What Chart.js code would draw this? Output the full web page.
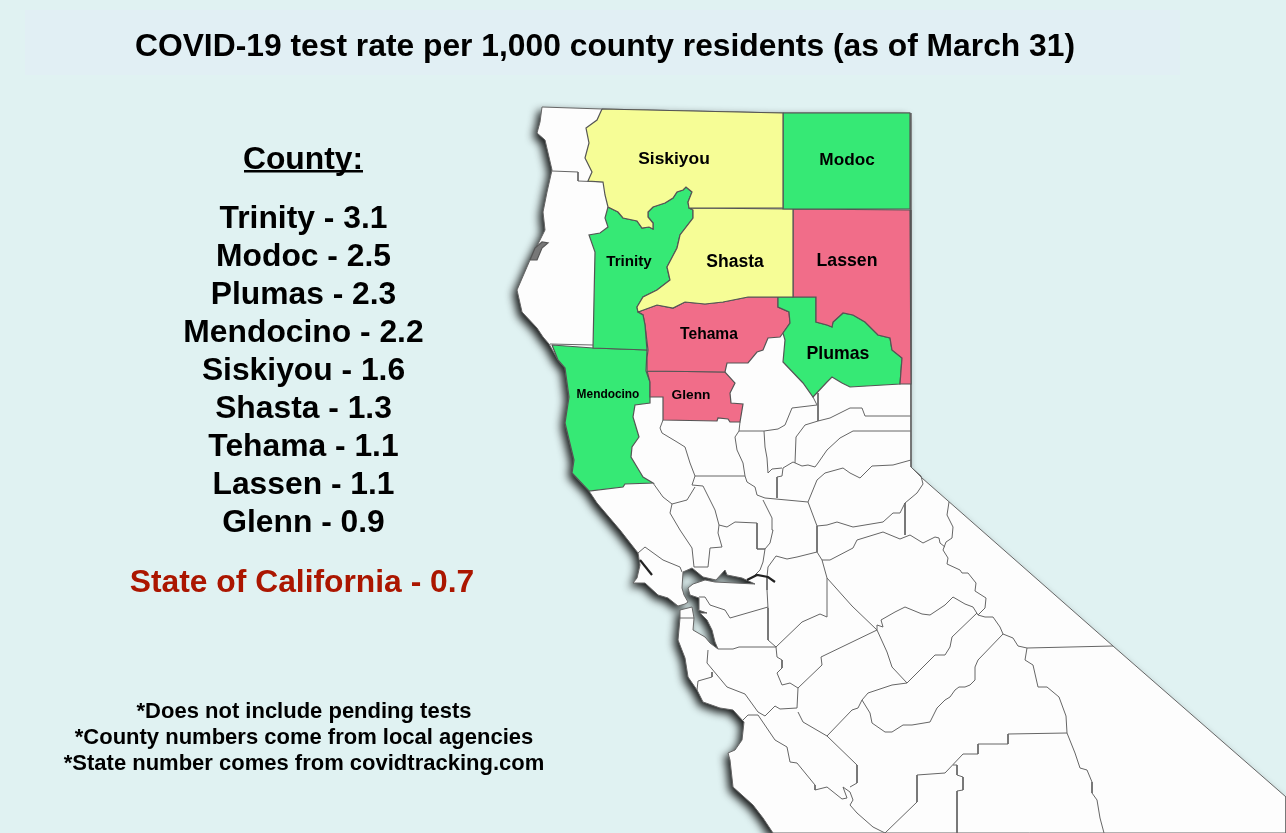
<!DOCTYPE html>
<html>
<head>
<meta charset="utf-8">
<title>COVID-19 test rate</title>
<script src="https://cdn.jsdelivr.net/npm/chart.js@4"></script>
<style>
  html, body { margin: 0; padding: 0; background: #e0f2f2; }
  canvas { display: block; }
</style>
</head>
<body>
<canvas id="mapChart" width="1286" height="833"></canvas>
<script>
// text
const titleText = "COVID-19 test rate per 1,000 county residents (as of March 31)";
const listHeader = "County:";
const rankedCounties = ["Trinity", "Modoc", "Plumas", "Mendocino", "Siskiyou", "Shasta", "Tehama", "Lassen", "Glenn"];
const rankedRates = ["3.1", "2.5", "2.3", "2.2", "1.6", "1.3", "1.1", "1.1", "0.9"];
const stateLine = "State of California - 0.7";
const footnotes = ["*Does not include pending tests", "*County numbers come from local agencies", "*State number comes from covidtracking.com"];

// map labels, in picture coordinates
const mapLabels = ["Siskiyou", "Modoc", "Trinity", "Shasta", "Lassen", "Tehama", "Plumas", "Glenn", "Mendocino"];
const mapLabelX = [674, 847, 629, 735, 847, 709, 838, 691, 608];
const mapLabelY = [158, 159, 261, 261, 260, 333, 353, 394, 394];
const mapLabelSize = [17.4, 17.2, 15.2, 17.5, 17.7, 15.6, 17.7, 13.7, 11.9];

// outlines, x/y in picture pixels
const stateOutline = [[542,107],[602,109],[783,113],[910,113],[911,210],[911,467],[922,478],[1113,646],[1286,797],[1286,833],[773,833],[763,818],[753,805],[733,787],[730,760],[728,753],[735,750],[742,740],[744,722],[733,710],[720,708],[703,702],[697,690],[688,677],[685,658],[678,640],[680,618],[680,610],[692,607],[694,618],[693,630],[705,637],[710,643],[718,649],[715,642],[712,630],[707,620],[700,613],[707,613],[698,610],[699,598],[690,595],[688,588],[693,584],[705,580],[715,582],[755,584],[742,578],[727,575],[725,570],[716,580],[703,577],[692,568],[683,572],[682,588],[684,595],[688,602],[685,604],[678,606],[668,598],[658,595],[645,583],[633,583],[637,578],[640,565],[638,553],[620,530],[597,503],[589,491],[572,473],[574,460],[565,423],[569,397],[565,368],[558,360],[549,344],[543,337],[537,328],[522,312],[517,290],[530,260],[545,230],[543,212],[547,192],[552,170],[545,140],[537,133],[540,122]];
const siskiyouOutline = [[602,109],[783,113],[783,208],[689,208],[688,202],[692,192],[686,187],[683,190],[677,192],[673,198],[665,203],[653,207],[648,212],[648,217],[653,223],[653,229],[649,227],[642,228],[637,221],[623,218],[618,212],[608,207],[605,195],[603,182],[588,181],[592,172],[585,158],[589,143],[586,128],[597,120]];
const modocOutline = [[783,113],[910,113],[910,209],[783,209]];
const shastaOutline = [[689,208],[793,209],[793,297],[778,297],[762,297],[748,297],[723,302],[705,304],[685,302],[673,308],[657,305],[638,312],[637,307],[643,297],[657,290],[670,280],[667,267],[677,248],[680,235],[693,218],[693,210]];
const trinityOutline = [[608,207],[618,212],[623,218],[637,221],[642,228],[649,227],[653,229],[653,223],[648,217],[648,212],[653,207],[665,203],[673,198],[677,192],[683,190],[686,187],[692,192],[688,202],[689,208],[693,210],[693,218],[680,235],[677,248],[667,267],[670,280],[657,290],[643,297],[637,307],[638,312],[643,315],[645,325],[647,350],[593,348],[595,252],[589,235],[600,233],[608,227],[605,218]];
const lassenOutline = [[793,209],[910,210],[911,384],[900,384],[902,358],[892,350],[890,338],[878,335],[865,322],[853,315],[843,313],[833,322],[832,327],[827,325],[816,322],[816,297],[793,297]];
const plumasOutline = [[778,297],[816,297],[816,322],[827,325],[832,327],[833,322],[843,313],[853,315],[865,322],[878,335],[890,338],[892,350],[902,358],[900,384],[850,387],[842,383],[832,377],[827,382],[813,397],[803,383],[783,362],[785,340],[783,333],[790,323],[789,312],[778,307]];
const tehamaOutline = [[638,312],[657,305],[673,308],[685,302],[705,304],[723,302],[748,297],[762,297],[778,297],[778,307],[789,312],[790,323],[783,333],[780,337],[768,338],[763,350],[757,352],[748,363],[727,363],[725,372],[647,371],[647,358],[648,350],[645,325],[643,315]];
const glennOutline = [[647,371],[725,372],[735,383],[730,393],[731,403],[743,404],[740,422],[730,422],[728,419],[718,418],[717,421],[663,420],[663,397],[650,397],[650,382]];
const mendocinoOutline = [[552,345],[593,348],[647,350],[646,371],[650,382],[650,403],[635,405],[633,417],[639,437],[632,447],[631,457],[640,472],[643,477],[653,483],[625,484],[623,487],[589,491],[572,473],[574,460],[565,423],[569,397],[565,368],[558,360]];
const humboldtBay = [[530,260],[535,248],[542,242],[548,243],[542,248],[537,260]];

// county lines of the white part of the state
const whiteBorders = [
  [[552,171],[578,172],[578,181],[603,182]],
  [[550,344],[593,345]],
  [[740,422],[739,431],[764,431],[778,429],[785,425],[792,408],[817,405],[813,397]],
  [[818,393],[818,421],[830,418],[850,408],[862,408],[865,416],[911,416]],
  [[818,421],[805,425],[796,437],[795,463]],
  [[911,431],[853,431],[840,438],[827,450],[818,463],[815,467],[808,465],[802,466],[793,462],[783,468],[782,476],[777,477],[777,498]],
  [[764,431],[765,447],[767,458],[768,473],[772,469],[782,468]],
  [[739,431],[735,437],[737,450],[743,463],[745,476],[747,482],[755,487],[757,495],[765,498],[808,502]],
  [[911,460],[893,465],[872,466],[860,478],[850,473],[843,468],[825,473],[817,480],[808,502],[817,526],[817,552],[797,557],[787,559],[776,556],[768,567],[767,577],[767,590],[768,608],[768,640],[776,647]],
  [[912,468],[921,476],[923,484],[917,493],[905,503],[900,513],[893,513],[883,522],[853,527],[837,522],[827,525],[817,526]],
  [[817,552],[822,560],[830,560],[853,548],[857,540],[883,532],[900,539],[910,535],[923,543],[935,537],[939,538],[940,543],[945,547]],
  [[905,503],[905,535]],
  [[822,560],[827,578],[852,606],[877,630]],
  [[695,476],[745,476]],
  [[695,476],[692,485],[703,486],[715,510],[719,525],[727,527],[735,522],[757,523],[757,549],[765,549],[770,543],[773,530],[772,518],[763,500]],
  [[653,483],[663,497],[672,504],[687,500],[695,487]],
  [[695,476],[690,463],[685,447],[677,442],[662,433],[660,428],[663,420]],
  [[672,504],[670,513],[680,530],[692,548],[694,567],[708,567],[710,548],[722,547],[718,533],[719,525]],
  [[638,553],[645,547],[663,560],[680,567],[682,572]],
  [[757,549],[765,549],[763,562],[760,570],[753,577]],
  [[680,618],[694,618]],
  [[699,597],[705,597],[710,605],[725,610],[730,618],[768,607]],
  [[718,649],[733,649],[739,647],[776,647],[777,657],[782,660],[782,668],[777,673],[782,685],[790,683],[798,688],[797,708],[780,709],[775,706],[765,716]],
  [[708,650],[707,663],[727,687],[745,694],[758,712],[765,716]],
  [[712,672],[712,677],[698,681],[697,690]],
  [[743,720],[748,715],[758,715],[775,740],[787,747],[790,762],[797,763],[815,785],[815,790],[827,787],[842,799],[847,798],[843,787],[850,792],[853,800],[850,805],[857,813],[873,827],[885,833]],
  [[798,712],[803,722],[827,736],[857,765],[857,783],[850,787]],
  [[776,647],[802,622],[820,614],[827,617],[827,578]],
  [[798,688],[822,665],[821,657],[877,630],[887,652],[892,667],[907,683],[935,655],[945,655],[950,647],[952,637],[977,613]],
  [[827,736],[852,710],[858,708],[862,700],[868,693],[892,685],[907,683]],
  [[862,700],[870,713],[872,723],[885,732],[892,732],[903,725],[912,725],[930,722],[937,708],[945,700],[950,697],[955,690],[959,687],[965,687],[970,685],[975,680],[975,667],[978,660],[1003,634]],
  [[877,630],[877,625],[883,627],[881,620],[895,612],[905,607],[922,614],[930,615],[945,605],[953,597],[965,604],[973,607],[978,615],[985,617],[993,617],[1000,627],[1003,634],[1013,638],[1018,646],[1027,648]],
  [[978,615],[985,608],[986,598],[975,591],[976,583],[968,573],[962,573],[960,570],[947,564],[948,558],[943,550],[946,542],[952,538],[953,527],[947,515],[949,502]],
  [[1027,648],[1113,646]],
  [[1027,648],[1025,660],[1033,665],[1038,687],[1047,687],[1059,697],[1066,716],[1067,733],[1075,753],[1080,768],[1087,770],[1092,782],[1092,793],[1097,800],[1100,818],[1104,833]],
  [[1067,733],[1008,734],[1008,744],[978,744],[978,754],[963,754],[945,773],[917,775],[917,802],[885,833]],
  [[953,765],[957,765],[957,775],[963,777],[963,790],[957,791],[957,833]]
];
// dark water marks: Tomales Bay, the delta
const waterMarks = [
  [[640,560],[652,575]],
  [[747,580],[757,575],[768,577],[775,582]]
];

const GREEN = "#36e975", YELLOW = "#f6fd96", RED = "#f16d89", WHITE = "#fdfdfd", LINE = "#666";

function toPoints(outline) {
  return outline.map((p) => ({ x: p[0], y: p[1] }));
}
function closed(outline) {
  return toPoints(outline.concat([outline[0]]));
}
function county(name, outline, color) {
  return { label: name, data: closed(outline), showLine: true, pointRadius: 0, tension: 0, fill: "shape", backgroundColor: color, borderColor: "#555", borderWidth: 1.2 };
}
function borderLine(line, width, color) {
  return { label: "border", data: toPoints(line), showLine: true, pointRadius: 0, tension: 0, fill: false, borderColor: color, borderWidth: width };
}

// chart.js draws the last dataset first, so the silhouette goes at the end
const datasets = [
  ...waterMarks.map((l) => borderLine(l, 2.2, "#222")),
  county("Humboldt Bay", humboldtBay, "#777"),
  county("Siskiyou", siskiyouOutline, YELLOW),
  county("Modoc", modocOutline, GREEN),
  county("Shasta", shastaOutline, YELLOW),
  county("Trinity", trinityOutline, GREEN),
  county("Lassen", lassenOutline, RED),
  county("Plumas", plumasOutline, GREEN),
  county("Tehama", tehamaOutline, RED),
  county("Glenn", glennOutline, RED),
  county("Mendocino", mendocinoOutline, GREEN),
  ...whiteBorders.map((l) => borderLine(l, 1, LINE)),
  { label: "state line", data: closed(stateOutline), showLine: true, pointRadius: 0, tension: 0, fill: false, borderColor: LINE, borderWidth: 1 },
  { label: "state", data: closed(stateOutline), showLine: true, pointRadius: 0, tension: 0, fill: "shape", backgroundColor: WHITE, borderWidth: 0 },
];
const shadowIndex = datasets.length - 1;

const FONT = '"Liberation Sans", Arial, sans-serif';

// soft shadow of the silhouette along the coast
const coastShadow = {
  id: "coastShadow",
  beforeDatasetsDraw(chart) {
    const ctx = chart.ctx;
    ctx.save();
    ctx.shadowColor = "rgba(0,0,0,0.9)";
    ctx.shadowBlur = 8;
    ctx.shadowOffsetX = -4;
    ctx.shadowOffsetY = 4;
  },
  afterDatasetDraw(chart, args) {
    if (args.index === shadowIndex) chart.ctx.restore();
  },
};

const textLayer = {
  id: "textLayer",
  beforeDraw(chart) {
    const ctx = chart.ctx;
    ctx.fillStyle = "#e1eff4";
    ctx.fillRect(25, 10, 1155, 65);
  },
  afterDraw(chart) {
    const ctx = chart.ctx;
    const sx = chart.scales.x, sy = chart.scales.y;
    ctx.save();
    ctx.textAlign = "center";
    ctx.textBaseline = "alphabetic";
    ctx.fillStyle = "#000";

    ctx.font = "bold 31.8px " + FONT;
    ctx.fillText(titleText, 605, 56);

    ctx.fillText(listHeader, 303, 169);
    ctx.fillRect(244, 170, 119, 2.5);

    rankedCounties.forEach((name, i) => {
      ctx.fillText(name + " - " + rankedRates[i], 303.5, 228 + i * 38);
    });

    ctx.fillStyle = "#ab1600";
    ctx.fillText(stateLine, 302, 592);

    ctx.fillStyle = "#000";
    ctx.font = "bold 22px " + FONT;
    footnotes.forEach((t, i) => {
      ctx.fillText(t, 304, 718 + i * 26);
    });

    mapLabels.forEach((t, i) => {
      ctx.font = "bold " + mapLabelSize[i] + "px " + FONT;
      ctx.fillText(t, sx.getPixelForValue(mapLabelX[i]), sy.getPixelForValue(mapLabelY[i]) + mapLabelSize[i] * 0.36);
    });
    ctx.restore();
  },
};

new Chart(document.getElementById("mapChart"), {
  type: "scatter",
  data: { datasets },
  options: {
    responsive: false,
    animation: false,
    layout: { padding: 0 },
    plugins: { legend: { display: false }, title: { display: false }, tooltip: { enabled: false } },
    scales: {
      x: { type: "linear", min: 0, max: 1286, display: false },
      y: { type: "linear", min: 0, max: 833, reverse: true, display: false },
    },
  },
  plugins: [coastShadow, textLayer],
});
</script>
</body>
</html>
